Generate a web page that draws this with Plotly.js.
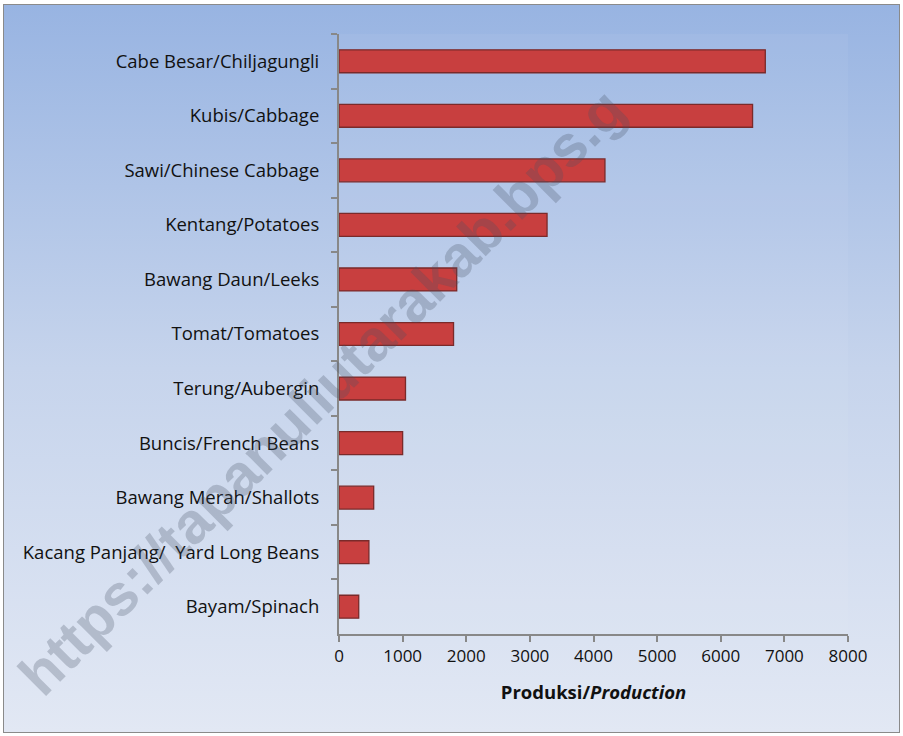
<!DOCTYPE html>
<html>
<head>
<meta charset="utf-8">
<script src="https://cdn.plot.ly/plotly-3.0.1.min.js"></script>
<style>
  html, body { margin: 0; padding: 0; background: #ffffff; }
  #frame { position: absolute; left: 3px; top: 4px; width: 895px; height: 727px;
           border: 1.5px solid #8a8a8a;
           background: linear-gradient(to bottom, #98b4e2 0%, #c6d4ec 50%, #e2e8f4 100%); }
  #chart { position: absolute; left: 0; top: 0; width: 903px; height: 736px; }
</style>
</head>
<body>
<div id="frame"></div>
<div id="chart"></div>
<script>
const categories = [
  "Cabe Besar/Chiljagungli",
  "Kubis/Cabbage",
  "Sawi/Chinese Cabbage",
  "Kentang/Potatoes",
  "Bawang Daun/Leeks",
  "Tomat/Tomatoes",
  "Terung/Aubergin",
  "Buncis/French Beans",
  "Bawang Merah/Shallots",
  "Kacang Panjang/  Yard Long Beans",
  "Bayam/Spinach"
];
const production = [6700, 6500, 4180, 3270, 1850, 1800, 1045, 1000, 545, 470, 310];
const xTicks = [0, 1000, 2000, 3000, 4000, 5000, 6000, 7000, 8000];

const trace = {
  type: "bar",
  orientation: "h",
  x: production,
  y: categories.map(c => c.replace(/ /g, "\u00a0")),
  marker: { color: "#c83f3f", line: { color: "#7a2a2a", width: 1.3 } },
  hoverinfo: "x+y"
};

const layout = {
  width: 903, height: 736,
  paper_bgcolor: "rgba(0,0,0,0)",
  plot_bgcolor: "rgba(255,255,255,0.05)",
  margin: { l: 339, r: 55, t: 34, b: 102 },
  bargap: 0.58,
  showlegend: false,
  font: { family: "'Open Sans', sans-serif", size: 17, color: "#111111" },
  xaxis: {
    range: [0, 8000],
    tickvals: xTicks,
    ticktext: xTicks.map(String),
    showgrid: false, zeroline: false,
    showline: true, linecolor: "#888888", linewidth: 2,
    ticks: "outside", ticklen: 6, tickwidth: 2, tickcolor: "#888888",
    tickfont: { size: 17, color: "#111111" },
    title: { text: "<b>Produksi/<i>Production</i></b>", font: { size: 18.5, color: "#111111" }, standoff: 20 }
  },
  yaxis: {
    type: "category",
    autorange: "reversed",
    showgrid: false, zeroline: false,
    showline: true, linecolor: "#888888", linewidth: 2,
    ticks: "outside", ticklen: 6, tickwidth: 2, tickcolor: "#888888",
    tickson: "boundaries",
    ticklabelstandoff: 14,
    tickfont: { size: 18.5, color: "#111111" }
  },
  annotations: [{
    xref: "paper", yref: "paper",
    x: -0.035, y: 0.405,
    xanchor: "center", yanchor: "middle",
    text: "<b>https://tapanuliutarakab.bps.g</b>",
    textangle: -45,
    showarrow: false,
    font: { family: "Liberation Sans, Arial, sans-serif", size: 58, color: "rgba(70,80,100,0.27)" }
  }]
};

Plotly.newPlot("chart", [trace], layout, { displayModeBar: false, staticPlot: true });
</script>
</body>
</html>
